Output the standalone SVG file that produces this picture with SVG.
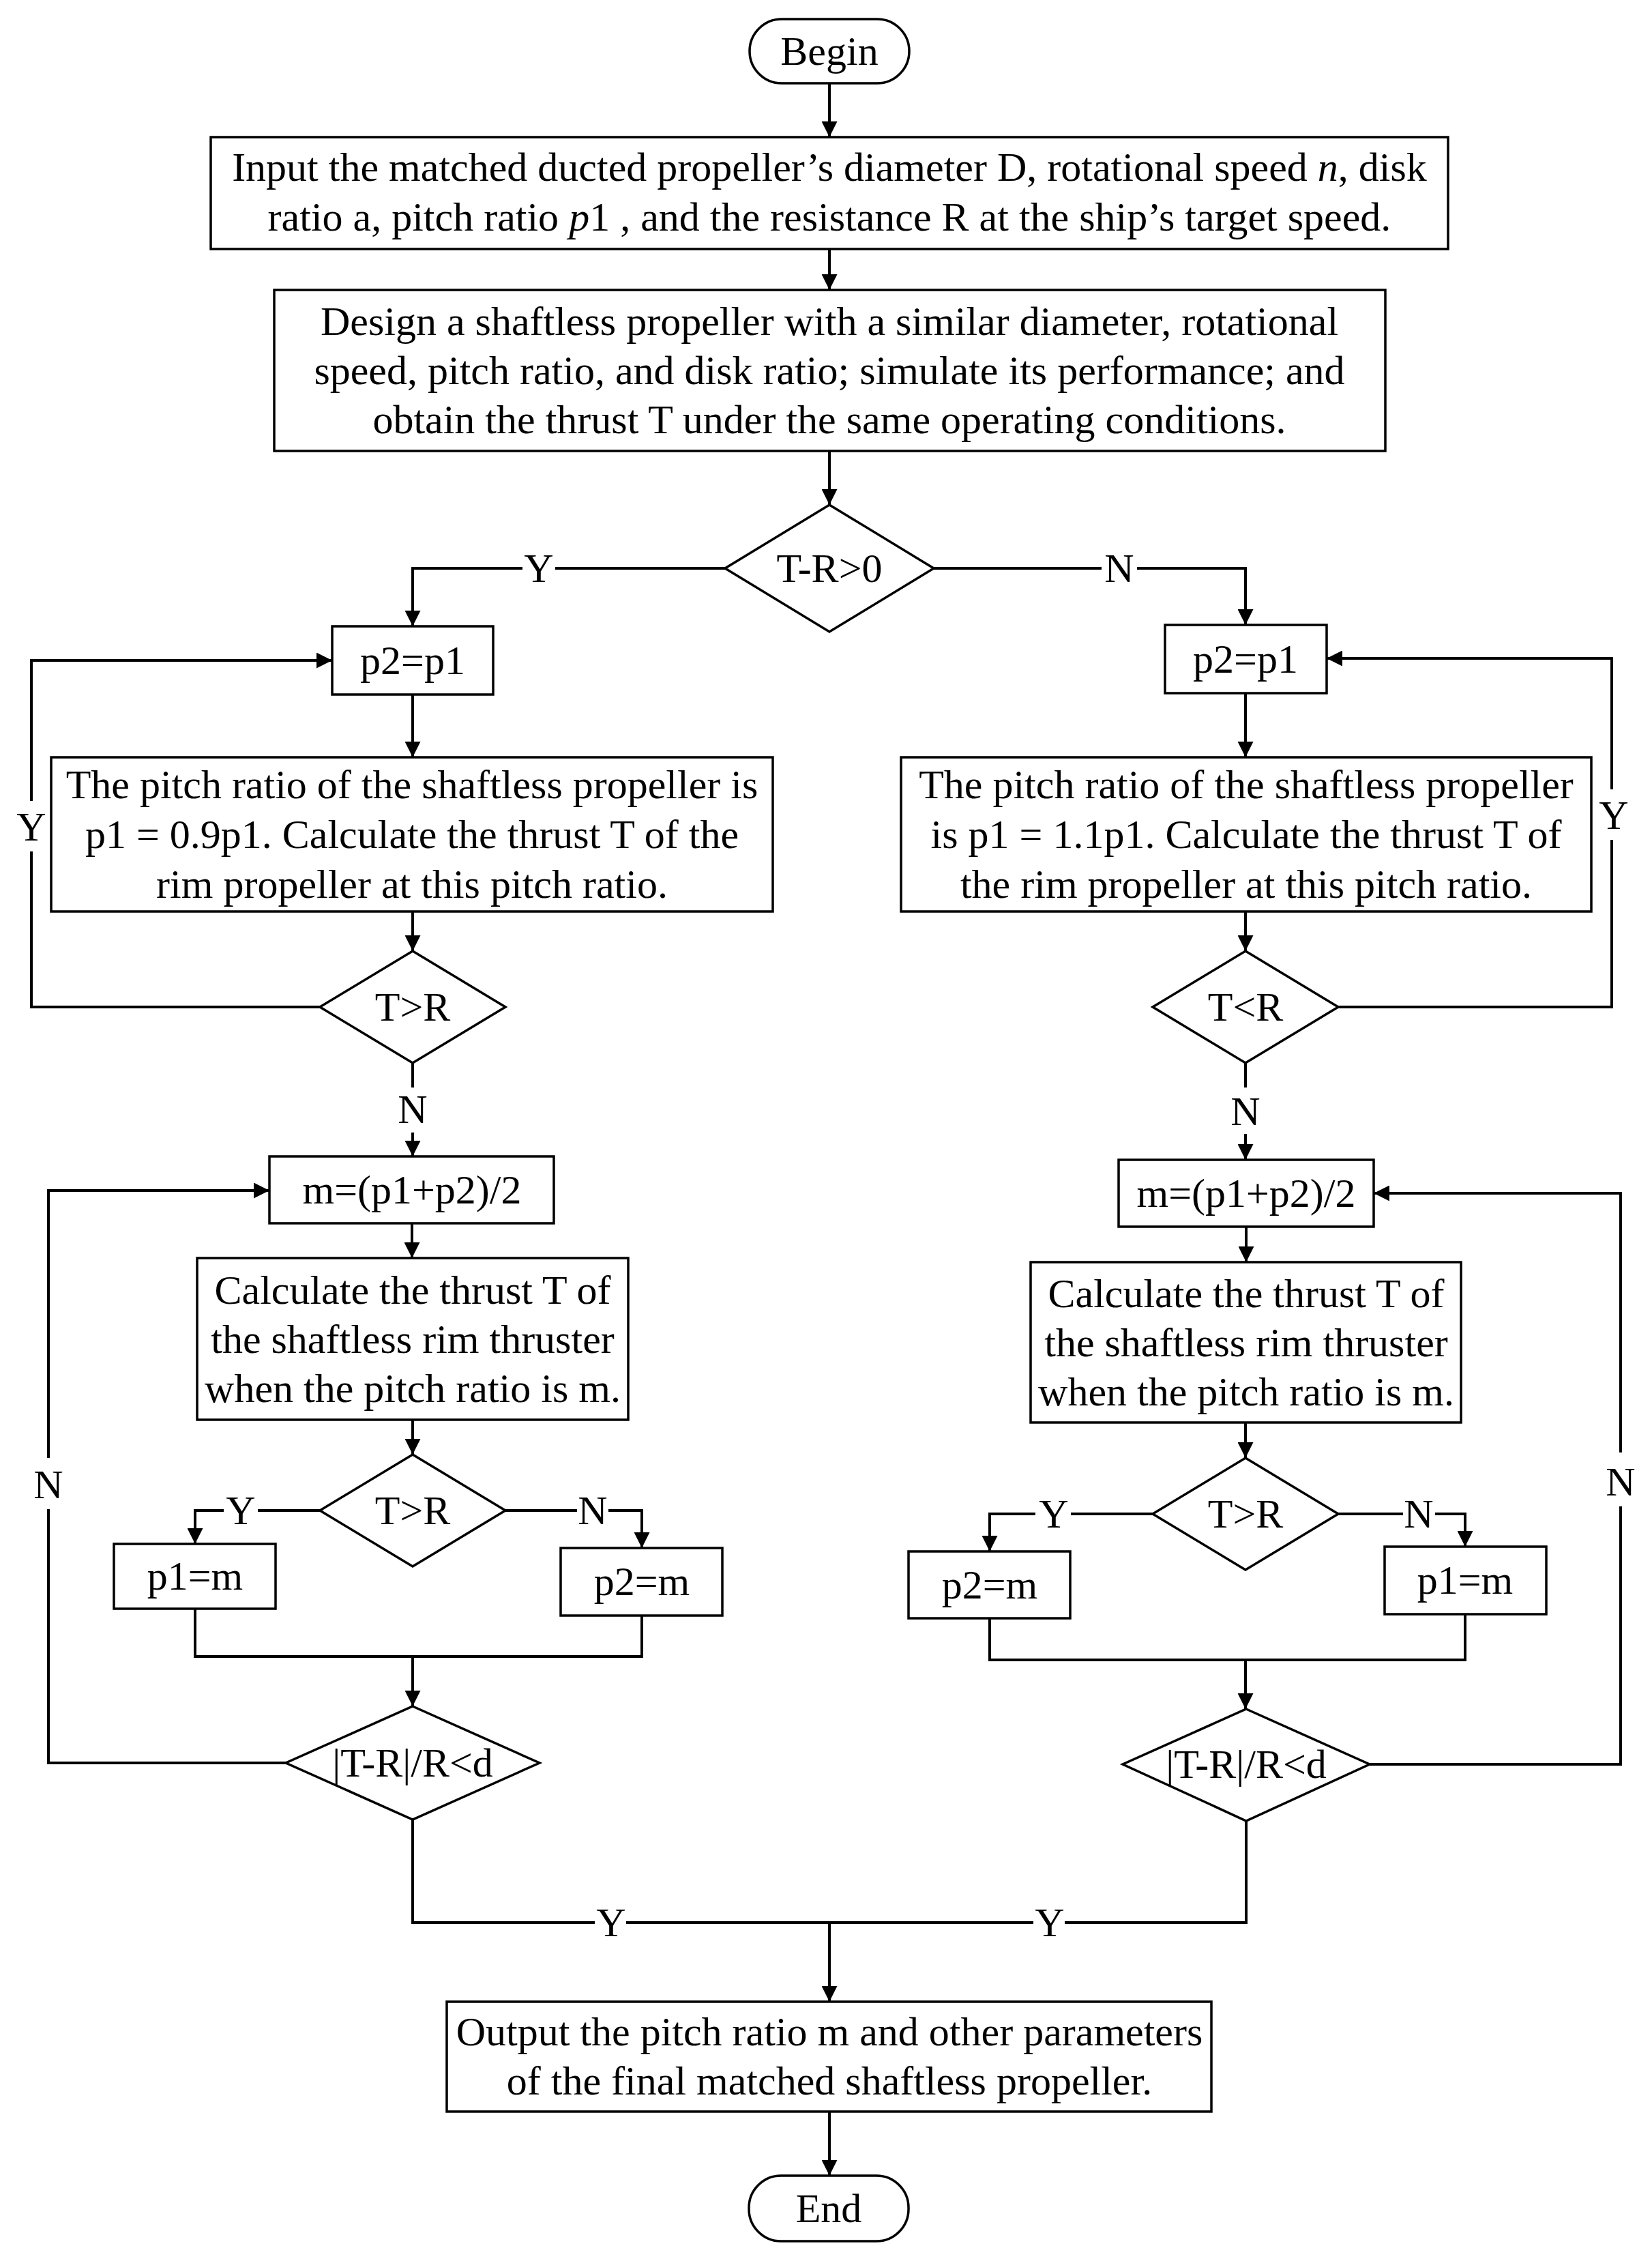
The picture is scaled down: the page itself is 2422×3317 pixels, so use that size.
<svg xmlns="http://www.w3.org/2000/svg" width="2422" height="3317" viewBox="0 0 2422 3317">
<defs>
<style>
.b{fill:#fff;stroke:#000;stroke-width:3.5}
.c{fill:none;stroke:#000;stroke-width:4}
.t{font-family:"Liberation Serif","Times New Roman",serif;font-size:60px;text-anchor:middle;fill:#000}
</style>
<marker id="ar" markerUnits="userSpaceOnUse" markerWidth="23" markerHeight="23" refX="23" refY="11.5" orient="auto">
<path d="M0,0 L23,11.5 L0,23 Z" fill="#000"/>
</marker>
</defs>
<rect width="2422" height="3317" fill="#fff"/>

<g id="connectors">
<path class="c" d="M1216,122 V201" marker-end="url(#ar)"/>
<path class="c" d="M1216,365 V425" marker-end="url(#ar)"/>
<path class="c" d="M1216,661 V740" marker-end="url(#ar)"/>
<path class="c" d="M1063,833 H814 M766,833 H605 V918" marker-end="url(#ar)"/>
<path class="c" d="M1369,833 H1615 M1667,833 H1826 V916" marker-end="url(#ar)"/>
<path class="c" d="M605,1018 V1110" marker-end="url(#ar)"/>
<path class="c" d="M1826,1016 V1110" marker-end="url(#ar)"/>
<path class="c" d="M605,1336 V1394" marker-end="url(#ar)"/>
<path class="c" d="M1826,1336 V1394" marker-end="url(#ar)"/>
<path class="c" d="M469,1476 H46 V1248 M46,1174 V968 H487" marker-end="url(#ar)"/>
<path class="c" d="M1962,1476 H2363 V1231 M2363,1157 V965 H1945" marker-end="url(#ar)"/>
<path class="c" d="M605,1558 V1594"/>
<path class="c" d="M605,1660 V1695" marker-end="url(#ar)"/>
<path class="c" d="M1826,1558 V1594"/>
<path class="c" d="M1826,1662 V1700" marker-end="url(#ar)"/>
<path class="c" d="M604,1793 V1844" marker-end="url(#ar)"/>
<path class="c" d="M1827,1798 V1850" marker-end="url(#ar)"/>
<path class="c" d="M605,2081 V2132" marker-end="url(#ar)"/>
<path class="c" d="M1826,2085 V2137" marker-end="url(#ar)"/>
<path class="c" d="M469,2214 H378 M328,2214 H286 V2263" marker-end="url(#ar)"/>
<path class="c" d="M741,2214 H846 M892,2214 H941 V2269" marker-end="url(#ar)"/>
<path class="c" d="M1690,2219 H1570 M1518,2219 H1451 V2274" marker-end="url(#ar)"/>
<path class="c" d="M1962,2219 H2057 M2104,2219 H2148 V2267" marker-end="url(#ar)"/>
<path class="c" d="M286,2358 V2428 H941 V2368"/>
<path class="c" d="M605,2428 V2501" marker-end="url(#ar)"/>
<path class="c" d="M1451,2372 V2433 H2148 V2366"/>
<path class="c" d="M1826,2433 V2505" marker-end="url(#ar)"/>
<path class="c" d="M419,2584 H71 V2212 M71,2137 V1745 H395" marker-end="url(#ar)"/>
<path class="c" d="M2008,2586 H2376 V2208 M2376,2129 V1749 H2014" marker-end="url(#ar)"/>
<path class="c" d="M605,2667 V2818 H872 M918,2818 H1515 M1561,2818 H1827 V2669"/>
<path class="c" d="M1216,2818 V2934" marker-end="url(#ar)"/>
<path class="c" d="M1216,3095 V3189" marker-end="url(#ar)"/>
<text class="t" x="790" y="853">Y</text>
<text class="t" x="1641" y="853">N</text>
<text class="t" x="46" y="1232">Y</text>
<text class="t" x="2366" y="1215">Y</text>
<text class="t" x="605" y="1646">N</text>
<text class="t" x="1826" y="1649">N</text>
<text class="t" x="71" y="2196">N</text>
<text class="t" x="2376" y="2192">N</text>
<text class="t" x="353" y="2234">Y</text>
<text class="t" x="869" y="2234">N</text>
<text class="t" x="1545" y="2239">Y</text>
<text class="t" x="2080" y="2239">N</text>
<text class="t" x="896" y="2838">Y</text>
<text class="t" x="1539" y="2838">Y</text>
</g>

<g id="begin">
<rect class="b" x="1099" y="28" width="234" height="94" rx="47" ry="47"/>
<text class="t" x="1216" y="95">Begin</text>
</g>

<g id="input">
<rect class="b" x="309" y="201" width="1814" height="164"/>
<text class="t" x="1216" y="265">Input the matched ducted propeller’s diameter D, rotational speed <tspan font-style="italic">n</tspan>, disk</text>
<text class="t" x="1216" y="338">ratio a, pitch ratio <tspan font-style="italic">p</tspan>1 , and the resistance R at the ship’s target speed.</text>
</g>

<g id="design">
<rect class="b" x="402" y="425" width="1629" height="236"/>
<text class="t" x="1216" y="491">Design a shaftless propeller with a similar diameter, rotational</text>
<text class="t" x="1216" y="563">speed, pitch ratio, and disk ratio; simulate its performance; and</text>
<text class="t" x="1216" y="635">obtain the thrust T under the same operating conditions.</text>
</g>

<g id="dec-main">
<polygon class="b" points="1216,740 1369,833 1216,926 1063,833"/>
<text class="t" x="1216" y="853">T-R&gt;0</text>
</g>

<g id="left-p2p1">
<rect class="b" x="487" y="918" width="236" height="100"/>
<text class="t" x="605" y="988">p2=p1</text>
</g>

<g id="right-p2p1">
<rect class="b" x="1708" y="916" width="237" height="100"/>
<text class="t" x="1826" y="986">p2=p1</text>
</g>

<g id="left-pitch">
<rect class="b" x="75" y="1110" width="1058" height="226"/>
<text class="t" x="604" y="1170">The pitch ratio of the shaftless propeller is</text>
<text class="t" x="604" y="1243">p1 = 0.9p1. Calculate the thrust T of the</text>
<text class="t" x="604" y="1316">rim propeller at this pitch ratio.</text>
</g>

<g id="right-pitch">
<rect class="b" x="1321" y="1110" width="1012" height="226"/>
<text class="t" x="1827" y="1170">The pitch ratio of the shaftless propeller</text>
<text class="t" x="1827" y="1243">is p1 = 1.1p1. Calculate the thrust T of</text>
<text class="t" x="1827" y="1316">the rim propeller at this pitch ratio.</text>
</g>

<g id="left-dec1">
<polygon class="b" points="605,1394 741,1476 605,1558 469,1476"/>
<text class="t" x="605" y="1496">T&gt;R</text>
</g>

<g id="right-dec1">
<polygon class="b" points="1826,1394 1962,1476 1826,1558 1690,1476"/>
<text class="t" x="1826" y="1496">T&lt;R</text>
</g>

<g id="left-m">
<rect class="b" x="395" y="1695" width="417" height="98"/>
<text class="t" x="604" y="1764">m=(p1+p2)/2</text>
</g>

<g id="right-m">
<rect class="b" x="1640" y="1700" width="374" height="98"/>
<text class="t" x="1827" y="1769">m=(p1+p2)/2</text>
</g>

<g id="left-calc">
<rect class="b" x="289" y="1844" width="632" height="237"/>
<text class="t" x="605" y="1911">Calculate the thrust T of</text>
<text class="t" x="605" y="1983">the shaftless rim thruster</text>
<text class="t" x="605" y="2055">when the pitch ratio is m.</text>
</g>

<g id="right-calc">
<rect class="b" x="1511" y="1850" width="631" height="235"/>
<text class="t" x="1827" y="1916">Calculate the thrust T of</text>
<text class="t" x="1827" y="1988">the shaftless rim thruster</text>
<text class="t" x="1827" y="2060">when the pitch ratio is m.</text>
</g>

<g id="left-dec2">
<polygon class="b" points="605,2132 741,2214 605,2296 469,2214"/>
<text class="t" x="605" y="2234">T&gt;R</text>
</g>

<g id="right-dec2">
<polygon class="b" points="1826,2137 1962,2219 1826,2301 1690,2219"/>
<text class="t" x="1826" y="2239">T&gt;R</text>
</g>

<g id="left-p1m">
<rect class="b" x="167" y="2263" width="237" height="95"/>
<text class="t" x="286" y="2330">p1=m</text>
</g>

<g id="left-p2m">
<rect class="b" x="822" y="2269" width="237" height="99"/>
<text class="t" x="941" y="2338">p2=m</text>
</g>

<g id="right-p2m">
<rect class="b" x="1332" y="2274" width="237" height="98"/>
<text class="t" x="1451" y="2343">p2=m</text>
</g>

<g id="right-p1m">
<rect class="b" x="2030" y="2267" width="237" height="99"/>
<text class="t" x="2148" y="2336">p1=m</text>
</g>

<g id="left-dec3">
<polygon class="b" points="605,2501 791,2584 605,2667 419,2584"/>
<text class="t" x="605" y="2604">|T-R|/R&lt;d</text>
</g>

<g id="right-dec3">
<polygon class="b" points="1827,2505 2008,2586 1827,2669 1646,2586"/>
<text class="t" x="1827" y="2606">|T-R|/R&lt;d</text>
</g>

<g id="output">
<rect class="b" x="655" y="2934" width="1121" height="161"/>
<text class="t" x="1216" y="2998">Output the pitch ratio m and other parameters</text>
<text class="t" x="1216" y="3070">of the final matched shaftless propeller.</text>
</g>

<g id="end">
<rect class="b" x="1098" y="3189" width="234" height="96" rx="47" ry="47"/>
<text class="t" x="1215" y="3257">End</text>
</g>
</svg>
